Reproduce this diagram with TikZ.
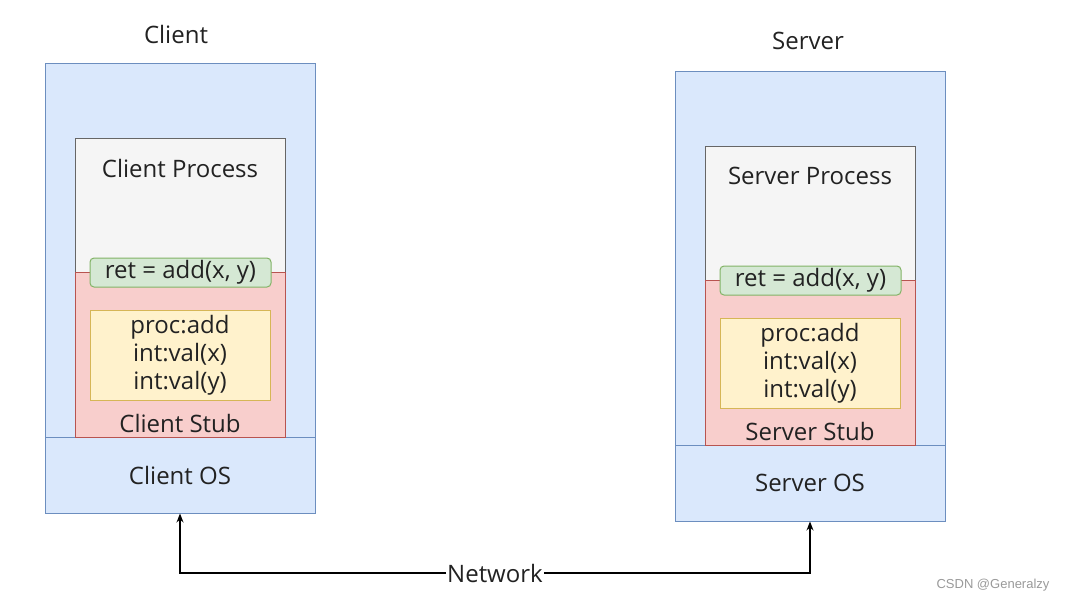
\documentclass[tikz,border=0pt]{standalone}
\usepackage{fontspec}
\setmainfont{Open Sans}
\usetikzlibrary{arrows.meta}
\definecolor{bfill}{HTML}{DAE8FC}\definecolor{bline}{HTML}{6C8EBF}
\definecolor{gfill}{HTML}{F5F5F5}\definecolor{gline}{HTML}{666666}
\definecolor{rfill}{HTML}{F8CECC}\definecolor{rline}{HTML}{B85450}
\definecolor{grfill}{HTML}{D5E8D4}\definecolor{grline}{HTML}{82B366}
\definecolor{yfill}{HTML}{FFF2CC}\definecolor{yline}{HTML}{D6B656}
\definecolor{txt}{HTML}{222222}
\tikzset{
  box/.style={draw, line width=1pt, inner sep=0pt, minimum width=#1},
  outerbox/.style={box=270pt, fill=bfill, draw=bline, minimum height=450pt},
  osbox/.style={box=270pt, fill=bfill, draw=bline, minimum height=76pt},
  procbox/.style={box=210pt, fill=gfill, draw=gline, minimum height=134pt},
  stubbox/.style={box=210pt, fill=rfill, draw=rline, minimum height=165pt},
  callbox/.style={box=181pt, fill=grfill, draw=grline, minimum height=29pt, rounded corners=4pt},
  databox/.style={box=180pt, fill=yfill, draw=yline, minimum height=90pt},
  lbl/.style={text=txt, font=\fontsize{24}{28}\selectfont, inner sep=0pt, align=center},
  conn/.style={line width=1.2pt, -{Stealth[length=9pt,width=7pt]}},
}
\begin{document}
\begin{tikzpicture}[x=1pt,y=-1pt]
\useasboundingbox (0,0) rectangle (1069,603);
% Client
\node[lbl] (clientlbl) at (176,34) {Client};
\node[outerbox] (client) at (180,288) {};
\node[osbox] (clientos) at (180,475) {};
\node[lbl] (clientostxt) at (180,475) {Client OS};
\node[procbox] (cproc) at (180,205) {};
\node[stubbox] (cstub) at (180,354.5) {};
\node[lbl] (cproctxt) at (180,168) {Client Process};
\node[lbl] (cstubtxt) at (180,423) {Client Stub};
\node[callbox, lbl] (ccall) at (180.5,272.5) {ret = add(x, y)};
\node[databox, lbl] (cdata) at (180,355) {proc:add\\int:val(x)\\int:val(y)};
% Server
\node[lbl] (serverlbl) at (808,41) {Server};
\node[outerbox] (server) at (810,296) {};
\node[osbox] (serveros) at (810,483) {};
\node[lbl] (serverostxt) at (810,483) {Server OS};
\node[procbox] (sproc) at (810,213) {};
\node[stubbox] (sstub) at (810,362.5) {};
\node[lbl] (sproctxt) at (810,176) {Server Process};
\node[lbl] (sstubtxt) at (810,431) {Server Stub};
\node[callbox, lbl] (scall) at (810.5,280.5) {ret = add(x, y)};
\node[databox, lbl] (sdata) at (810,363) {proc:add\\int:val(x)\\int:val(y)};
% Network
\node[lbl, inner xsep=1pt] (net) at (495,573) {Network};
\draw[conn] (net.west) -| (clientos.south);
\draw[conn] (net.east) -| (serveros.south);
% watermark
\node[text=gray!80, font=\fontsize{13}{15}\selectfont\fontspec{Liberation Sans}, inner sep=0pt] (wm) at (993,585) {CSDN @Generalzy};
\end{tikzpicture}
\end{document}
